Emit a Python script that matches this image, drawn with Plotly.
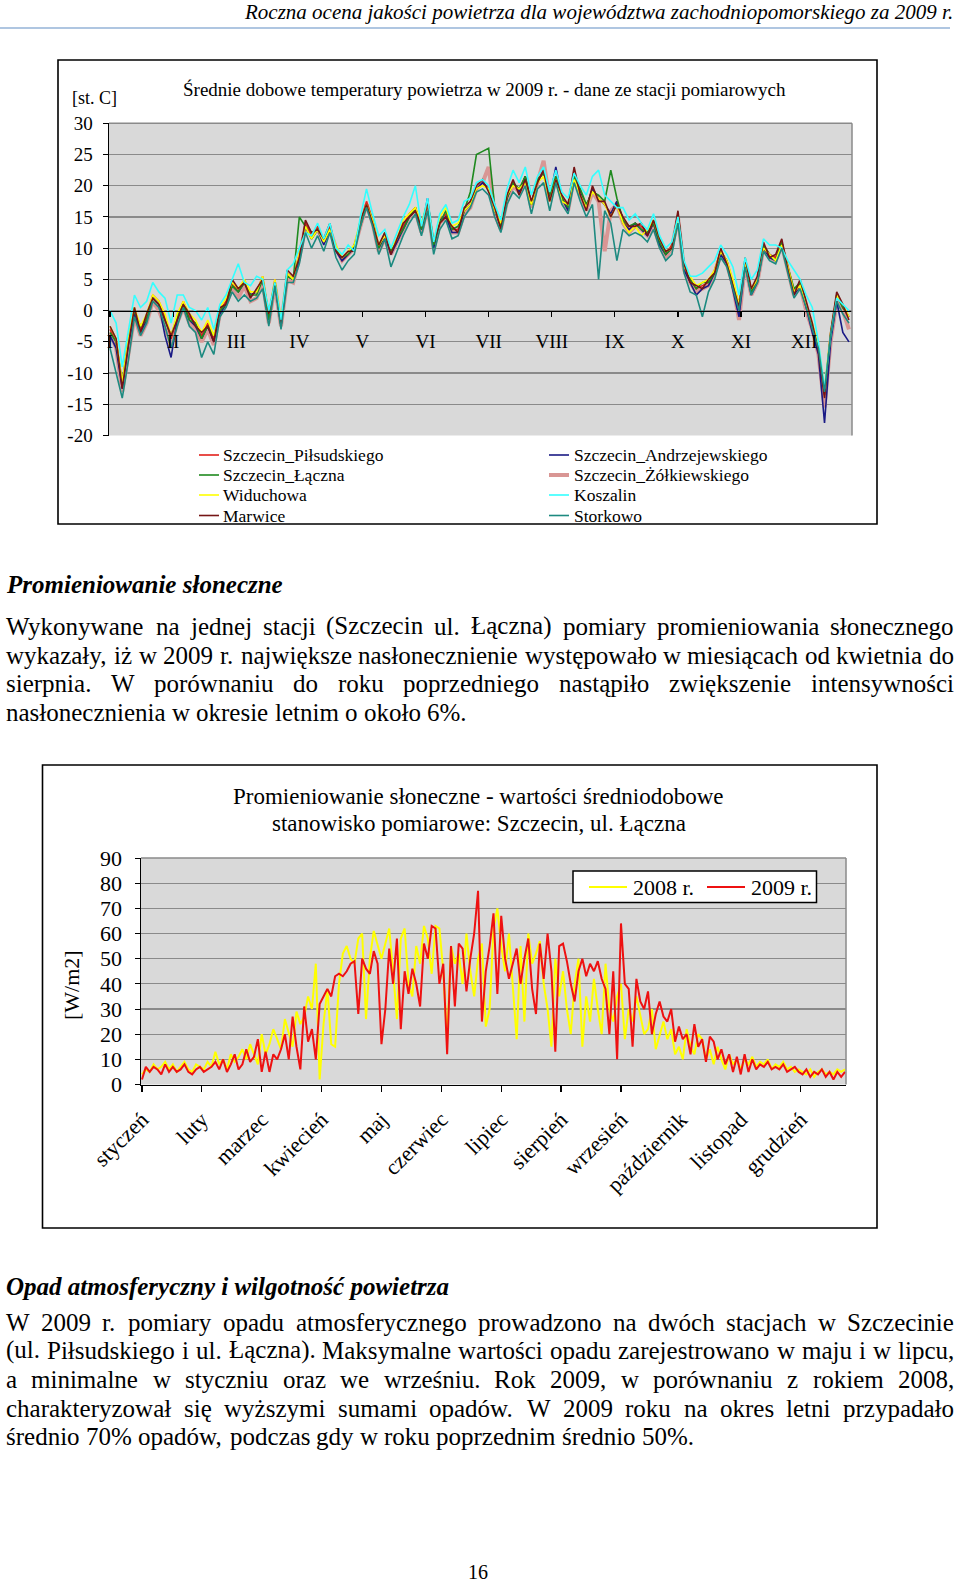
import plotly.graph_objects as go

W, H = 960, 1585
SERIF = "Liberation Serif"

# ---------------- chart 1 data: daily mean air temperature 2009 (every 3rd day) ----------------
temp_days = list(range(0, 364, 3))
month_roman = ["I", "II", "III", "IV", "V", "VI", "VII", "VIII", "IX", "X", "XI", "XII"]
month_ticks = [0, 31, 62, 93, 124, 155, 186, 217, 248, 279, 310, 341]
temp_ticks = [-20, -15, -10, -5, 0, 5, 10, 15, 20, 25, 30]
stations = ["Szczecin_Piłsudskiego", "Szczecin_Andrzejewskiego", "Szczecin_Łączna",
            "Szczecin_Żółkiewskiego", "Widuchowa", "Koszalin", "Marwice", "Storkowo"]

t_pilsudskiego = [-3, -5, -12, -5, 0, -3, -1, 2.5, 1.5, -1,
                  -4.5, -1, 1.5, -1, -2, -4, -2, -4.5, 0, 1.5,
                  4.5, 3, 5, 2.5, 3, 5.5, -1, 5, -2, 6,
                  5, 9, 14, 12, 13.5, 11, 13.5, 10, 8, 9,
                  10, 14, 17.5, 14.5, 10, 12, 9.5, 11, 13.5, 15.5,
                  16.5, 13, 17, 10.5, 14.5, 15.5, 13, 13, 16, 17,
                  19.5, 20.5, 19.5, 16, 13.5, 18, 20.5, 19, 21.5, 17,
                  21, 22, 18, 21.5, 18, 16.5, 22, 19, 16.5, 19.5,
                  18, 17, 15.5, 17.5, 14.5, 13, 14, 13.5, 12.5, 14,
                  11, 9, 10.5, 15.5, 7, 5, 3.5, 4, 4.5, 6.5,
                  9.5, 8, 4.5, 1, 8, 3, 5, 10.5, 9, 8.5,
                  11, 7, 3, 4.5, 1, -2.5, -6, -13.5, -4, 2.5,
                  0.5, -1]
t_andrzejewskiego = [-4, -6, -12.5, -5.5, -0.5, -3.5, -1.5, 2, 1, -4,
                     -7.5, -1.5, 1, -1.5, -2.5, -4.5, -2.5, -5, -0.5, 1,
                     4, 3, 4.5, 2.5, 3, 5, -1.5, 4.5, -2.5, 5.5,
                     5, 8, 13.5, 11.5, 13, 10.5, 13, 9.5, 8, 9,
                     10, 14, 17, 14, 10, 12, 9, 11, 13, 15,
                     16, 13, 18, 10, 14.5, 15, 12.5, 12.5, 16, 17,
                     19.5, 20.5, 19.5, 16, 13.5, 18, 20.5, 19, 21.5, 17,
                     20.5, 22.5, 18, 23, 18, 16, 21.5, 19, 16.5, 19.5,
                     18, 17, 15.5, 17.5, 14, 13, 14, 13, 12, 14,
                     10.5, 9, 10, 15, 6.5, 4.5, 2.5, 3.5, 4, 6,
                     9, 7.5, 3.5, -1, 7.5, 2.5, 4.5, 10, 8.5, 8,
                     10.5, 6.5, 2.5, 4, 0.5, -3.5, -7, -18, -5, 1.5,
                     -3.5, -5]
t_laczna = [-3.5, -5, -11.5, -4.5, 0, -2.5, -1.5, 2, 1, -1.5,
            -4, -1, 1, -1.5, -2, -4.5, -2.5, -4, 0, 1,
            4, 3, 4.5, 2.5, 2.5, 5, -1.5, 4.5, -2, 5.5,
            5, 15, 13.5, 11.5, 13, 11.5, 13, 10, 8.5, 9,
            10.5, 13.5, 17, 14.5, 10, 12.5, 9.5, 11.5, 13, 15,
            16.5, 13, 17.5, 10.5, 14, 16, 13, 13.5, 16, 19,
            25, 25.5, 26, 16.5, 13.5, 18, 20.5, 19.5, 21.5, 17,
            21, 22, 18.5, 21.5, 18, 16.5, 21.5, 19.5, 17, 19,
            18.5, 17.5, 22.5, 18, 14.5, 13.5, 14, 13, 12.5, 14,
            11, 9, 10, 15.5, 7.5, 5, 3.5, 4.5, 4.5, 6,
            9.5, 8, 4, 1, 8, 3, 4.5, 10.5, 9, 8,
            11, 7, 3.5, 4.5, 1, -2.5, -6, -13, -4, 2.5,
            0.5, -1]
t_zolkiewskiego = [-3.5, -6, -13, -6.5, -1, -4, -2, 1.5, 0, -2.5,
                   -5.5, -2, 0.5, -2, -3, -5, -3, -5.5, -0.5, 1,
                   3.5, 2, 4, 1.5, 2, 4.5, -2, 4, -2.5, 5,
                   4.5, 8.5, 13.5, 12, 13, 11, 13, 10, 8, 9,
                   10, 13.5, 17, 14, 9.5, 11.5, 9, 11, 13, 15,
                   16, 12.5, 16.5, 10, 14, 15, 12.5, 12.5, 15.5, 16.5,
                   19.5, 20.5, 23, 15.5, 13, 17.5, 20, 19, 21, 16.5,
                   20.5, 24, 17.5, 21.5, 17.5, 16, 21.5, 18.5, 16, 19,
                   17.5, 9.5, 16, 17, 14, 12.5, 13.5, 13, 12, 13.5,
                   10.5, 8.5, 10, 15, 6.5, 4.5, 3, 3.5, 4, 6,
                   9, 7.5, 4, -1.5, 7.5, 2.5, 4.5, 10, 8.5, 8,
                   10.5, 6.5, 2.5, 4, 0, -3, -7, -15.5, -5, 1.5,
                   0, -3]
t_widuchowa = [-2.5, -4.5, -11.5, -4.5, 0.5, -2.5, -0.5, 2.5, 1.5, -0.5,
               -4, -0.5, 1.5, -0.5, -1.5, -3.5, -1.5, -4, 0.5, 2,
               4.5, 3.5, 5, 3, 3, 5.5, -0.5, 5, -1.5, 6,
               5, 9.5, 13.5, 11.5, 13, 11, 13, 10.5, 8.5, 9.5,
               10.5, 14.5, 17, 14.5, 10.5, 12, 10, 11.5, 14.5, 15.5,
               16.5, 14, 17.5, 11, 15, 16.5, 13.5, 14, 16, 17,
               19.5, 20, 19.5, 16, 14, 18.5, 20, 19.5, 20.5, 17,
               20.5, 21.5, 17.5, 21, 17.5, 17, 21, 18.5, 16.5, 19,
               18, 17, 15, 17, 14, 12.5, 13.5, 12, 13, 14.5,
               11.5, 9.5, 10, 14.5, 7, 5.5, 4, 4.5, 5, 6.5,
               9.5, 8, 5, 1, 7.5, 3.5, 5, 10, 9, 8,
               10.5, 7, 3, 4, 1, -2, -5.5, -12.5, -3.5, 2.5,
               1, -1]
t_koszalin = [0, -2, -9, -3, 2.5, 0.5, 1.5, 4.5, 3, 2,
              -2, 2.5, 2.5, 0.5, 0, -1.5, 0.5, -3, 1, 2.5,
              5, 7.5, 4.5, 4, 5.5, 5, 0, 4.5, -1.5, 6.5,
              7.5, 10, 12.5, 12, 14, 11.5, 14, 10, 9, 10.5,
              9.5, 15, 19.5, 15.5, 12, 13, 10, 12.5, 15, 17,
              20, 13.5, 18, 11, 15.5, 17, 14, 14.5, 17.5, 18,
              20.5, 21, 20, 17, 14.5, 19.5, 22.5, 20.5, 23, 18.5,
              21.5, 23, 19, 22.5, 19, 18, 22, 20, 18.5, 21.5,
              22.5, 18.5, 17.5, 16.5, 16.5, 14.5, 15.5, 14, 13, 15.5,
              12, 10, 11, 15, 8, 5.5, 5.5, 6, 7, 8,
              10.5, 9, 7, 2.5, 8.5, 5, 6.5, 11.5, 10.5, 10.5,
              10, 8, 6.5, 5, 2.5, 0.5, -5, -12.5, -4, 2,
              1, 0]
t_marwice = [-2.5, -4.5, -12.5, -5.5, 0.5, -3.5, -0.5, 2, 1, -1.5,
             -4, -1.5, 1, -0.5, -2.5, -3.5, -2.5, -5, 0.5, 1,
             5, 3.5, 4.5, 2, 3.5, 5, -0.5, 4.5, -2.5, 6.5,
             5.5, 8.5, 14.5, 12.5, 13, 11.5, 14, 9.5, 8.5, 9.5,
             9.5, 14.5, 17, 14, 10.5, 12.5, 9, 11.5, 14, 15,
             16, 13.5, 17.5, 11, 14, 15, 13.5, 12.5, 16.5, 17.5,
             20, 21, 19, 16.5, 13, 18.5, 21, 18.5, 21, 17.5,
             20.5, 22.5, 17.5, 21, 18.5, 17, 23, 18.5, 16, 20,
             17.5, 17.5, 15, 17, 15, 13.5, 13.5, 14, 12, 14.5,
             11.5, 9.5, 10, 16, 7.5, 4.5, 4, 3.5, 5, 6,
             10, 7.5, 4, 0.5, 8.5, 3.5, 5.5, 11, 8.5, 9,
             11.5, 6.5, 2.5, 5, 1.5, -2, -6.5, -14, -3.5, 3,
             1, -1.5]
t_storkowo = [-6, -10, -14, -8, -1, -4, -2, 1.5, 0.5, -2.5,
              -6, -2.5, 0.5, -2.5, -3.5, -7.5, -5, -7, -1, 0.5,
              3, 1.5, 2.5, 1.5, 2, 3.5, -2.5, 4, -3, 4.5,
              4.5, 7.5, 12.5, 10, 12, 9.5, 12.5, 8.5, 6.5, 8,
              9, 13.5, 16.5, 13.5, 9, 11.5, 7, 9.5, 12, 14,
              15.5, 12, 16, 9, 13, 14.5, 11.5, 12, 15, 16.5,
              19, 19.5, 18.5, 15, 12.5, 17, 19, 18, 20, 15.5,
              19.5, 20.5, 16, 20.5, 17, 15.5, 20.5, 17.5, 15, 17,
              5, 16, 14, 8, 13, 12, 12.5, 12, 11, 13,
              10, 8, 9, 14, 6, 3, 2.5, -1, 3, 5,
              8.5, 7, 3.5, 0, 7, 2.5, 4.5, 9.5, 8, 7.5,
              10, 6, 2, 3.5, 0.5, -3, -6, -13, -4, 1.5,
              -0.5, -2]

temp_series = [t_pilsudskiego, t_andrzejewskiego, t_laczna, t_zolkiewskiego,
               t_widuchowa, t_koszalin, t_marwice, t_storkowo]

# ---------------- chart 2 data: daily mean solar radiation (every 2nd day) ----------------
rad_days = list(range(0, 365, 2))
month_pl = ["styczeń", "luty", "marzec", "kwiecień", "maj", "czerwiec", "lipiec",
            "sierpień", "wrzesień", "październik", "listopad", "grudzień"]
rad_2008 = [4, 6, 5, 8, 6, 7, 9, 6, 8, 5, 7, 9, 6, 5, 8, 7,
            6, 9, 7, 13, 8, 10, 6, 12, 9, 11, 14, 10, 16, 12, 8,
            20, 12, 16, 22, 18, 14, 26, 20, 15, 29, 24, 27, 35, 30, 48, 2,
            24, 38, 16, 15, 40, 52, 55, 50, 48, 58, 60, 26, 50, 61, 55,
            50, 56, 62, 45, 26, 58, 62, 40, 35, 55, 48, 63, 58, 44, 63, 62,
            45, 18, 55, 48, 52, 40, 60, 45, 35, 50, 56, 23, 30, 62, 70,
            55, 45, 60, 40, 18, 55, 25, 60, 48, 52, 57, 40, 30, 15, 50, 35,
            45, 30, 20, 40, 50, 15, 35, 25, 42, 30, 20, 48, 30, 25, 35,
            40, 18, 30, 25, 35, 28, 20, 22, 30, 14, 20, 25, 18, 22, 12, 15,
            10, 22, 15, 12, 20, 18, 10, 14, 8, 15, 10, 6, 12, 8, 10,
            6, 10, 8, 11, 7, 9, 8, 10, 6, 8, 7, 9, 6, 7, 5, 6,
            5, 4, 6, 3, 5, 6, 4, 5, 4, 6, 5, 6]
rad_2009 = [2, 7, 5, 7, 6, 4, 8, 5, 7, 5, 6, 8, 5, 4, 6, 7,
            5, 6, 7, 9, 6, 10, 5, 8, 12, 6, 8, 14, 9, 11, 18,
            5, 13, 5, 12, 10, 14, 20, 10, 27, 15, 6, 31, 17, 22, 10, 32,
            35, 38, 35, 43, 44, 43, 45, 48, 49, 28, 50, 46, 44, 53, 48,
            16, 30, 54, 40, 58, 22, 45, 36, 46, 40, 31, 56, 50, 63, 62, 40,
            48, 12, 55, 31, 56, 54, 37, 50, 60, 77, 25, 45, 55, 68, 36,
            67, 50, 42, 48, 54, 40, 50, 58, 38, 28, 56, 42, 60, 45, 13, 55,
            56, 49, 40, 33, 45, 50, 43, 48, 45, 49, 42, 38, 20, 45, 10,
            64, 40, 38, 15, 42, 33, 30, 37, 20, 28, 33, 27, 25, 30, 17, 23,
            18, 20, 12, 24, 15, 18, 9, 19, 17, 10, 14, 8, 12, 5, 11,
            4, 12, 5, 10, 6, 8, 7, 9, 6, 7, 6, 8, 5, 6, 7, 5,
            4, 6, 3, 5, 4, 6, 3, 5, 2, 5, 3, 5]
rad_names = ["2008 r.", "2009 r."]

# ---------------- page text ----------------
header_text = "Roczna ocena jakości powietrza dla województwa zachodniopomorskiego za 2009 r."
chart1_title = "Średnie dobowe temperatury powietrza w 2009 r. - dane ze stacji pomiarowych"
chart1_unit = "[st. C]"
chart2_title = ["Promieniowanie słoneczne - wartości średniodobowe",
                "stanowisko pomiarowe: Szczecin, ul. Łączna"]
chart2_unit = "[W/m2]"
heading1 = "Promieniowanie słoneczne"
para1 = ["Wykonywane na jednej stacji (Szczecin ul. Łączna) pomiary promieniowania słonecznego",
         "wykazały, iż w 2009 r. największe nasłonecznienie występowało w miesiącach od kwietnia do",
         "sierpnia. W porównaniu do roku poprzedniego nastąpiło zwiększenie intensywności",
         "nasłonecznienia w okresie letnim o około 6%."]
heading2 = "Opad atmosferyczny i wilgotność powietrza"
para2 = ["W 2009 r. pomiary opadu atmosferycznego prowadzono na dwóch stacjach w Szczecinie",
         "(ul. Piłsudskiego i ul. Łączna). Maksymalne wartości opadu zarejestrowano w maju i w lipcu,",
         "a minimalne w styczniu oraz we wrześniu. Rok 2009, w porównaniu z rokiem 2008,",
         "charakteryzował się wyższymi sumami opadów. W 2009 roku na okres letni przypadało",
         "średnio 70% opadów, podczas gdy w roku poprzednim średnio 50%."]
page_no = "16"

# ---------------- styles ----------------
temp_colors = ["#e3201b", "#1a1a85", "#1f8a1f", "#d99694", "#ffff00", "#33ffff", "#751515", "#1d8a80"]
temp_widths = [1.6, 1.6, 1.6, 4.0, 1.6, 1.6, 1.6, 1.6]
draw_order = [3, 0, 1, 2, 4, 6, 5, 7]
rad_colors = ["#ffff00", "#ee1111"]

def fx(px):
    return px / W

def fy(py):
    return 1 - py / H

# Times/Liberation Serif advance widths (1/1000 em) for justification
TW = {' ': 250, '%': 833, '(': 333, ')': 333, ',': 250, '-': 333, '.': 250, '/': 278,
      ':': 278, '[': 333, ']': 333, '_': 500,
      'A': 722, 'B': 667, 'C': 667, 'D': 722, 'E': 611, 'F': 556, 'G': 722, 'H': 722,
      'I': 333, 'J': 389, 'K': 722, 'L': 611, 'M': 889, 'N': 722, 'O': 722, 'P': 556,
      'R': 667, 'S': 556, 'T': 611, 'U': 722, 'W': 944, 'Z': 611,
      'a': 444, 'b': 500, 'c': 444, 'd': 500, 'e': 444, 'f': 333, 'g': 500, 'h': 500,
      'i': 278, 'j': 278, 'k': 500, 'l': 278, 'm': 778, 'n': 500, 'o': 500, 'p': 500,
      'q': 500, 'r': 333, 's': 389, 't': 278, 'u': 500, 'v': 500, 'w': 722, 'x': 500,
      'y': 500, 'z': 444,
      'ą': 444, 'ć': 444, 'ę': 444, 'ł': 278, 'ń': 500, 'ó': 500, 'ś': 389, 'ź': 444,
      'ż': 444, 'Ł': 611, 'Ś': 556, 'Ż': 611}

def tw(s, size):
    return sum(TW.get(ch, 500) for ch in s) * size / 1000.0

fig = go.Figure()

# ---------------- chart 1 traces ----------------
for i in draw_order:
    fig.add_trace(go.Scatter(x=temp_days, y=temp_series[i], name=stations[i], mode="lines",
                             line=dict(color=temp_colors[i], width=temp_widths[i]),
                             xaxis="x", yaxis="y", showlegend=False))

# ---------------- chart 2 traces ----------------
for vals, nm, col in zip([rad_2008, rad_2009], rad_names, rad_colors):
    fig.add_trace(go.Scatter(x=rad_days, y=vals, name=nm, mode="lines",
                             line=dict(color=col, width=2), xaxis="x2", yaxis="y2",
                             showlegend=False))

# geometry
c1_x0, c1_x1, c1_top, c1_bot = 109, 852, 123.3, 435.5
c1_ymin, c1_ymax = -20, 30
c2_x0, c2_x1, c2_top, c2_bot = 141, 846, 858, 1084.5
c1_ydom = [fy(c1_bot), fy(c1_top)]
zero_pos = c1_ydom[0] + (0 - c1_ymin) / (c1_ymax - c1_ymin) * (c1_ydom[1] - c1_ydom[0])

tick_font1 = dict(family=SERIF, size=19, color="black")
tick_font2 = dict(family=SERIF, size=22, color="black")

layout = dict(
    template="none",
    width=W, height=H, autosize=False,
    margin=dict(l=0, r=0, t=0, b=0, pad=0, autoexpand=False),
    paper_bgcolor="white", plot_bgcolor="#d9d9d9",
    font=dict(family=SERIF, color="black"),
    hovermode=False, showlegend=False,
    xaxis=dict(domain=[fx(c1_x0), fx(c1_x1)], range=[-0.5, 364.5], anchor="free",
               position=zero_pos, showline=True, linecolor="black", linewidth=1.5,
               ticks="outside", ticklen=5, tickwidth=1.2, tickcolor="black",
               tickmode="array", tickvals=month_ticks, ticktext=month_roman,
               tickfont=tick_font1, ticklabelstandoff=8, showgrid=False, zeroline=False,
               automargin=False),
    yaxis=dict(domain=c1_ydom, range=[c1_ymin, c1_ymax], anchor="x",
               tickmode="array", tickvals=temp_ticks, ticktext=[str(v) for v in temp_ticks],
               showgrid=True, gridcolor="#8a8a8a", gridwidth=1.3, zeroline=False,
               showline=True, linecolor="black", linewidth=1.5, ticks="outside",
               ticklen=5, tickcolor="black", tickfont=tick_font1, ticklabelstandoff=6,
               automargin=False),
    xaxis2=dict(domain=[fx(c2_x0), fx(c2_x1)], range=[-0.5, 364.5], anchor="y2",
                showline=True, linecolor="black", linewidth=1.5, ticks="outside",
                ticklen=6, tickwidth=1.2, tickcolor="black", tickmode="array",
                tickvals=month_ticks, ticktext=month_pl, tickangle=-45,
                tickfont=tick_font2, ticklabelstandoff=6, showgrid=False, zeroline=False,
                automargin=False),
    yaxis2=dict(domain=[fy(c2_bot), fy(c2_top)], range=[0, 90], anchor="x2", dtick=10,
                showgrid=True, gridcolor="#8a8a8a", gridwidth=1.3, zeroline=False,
                showline=True, linecolor="black", linewidth=1.5, ticks="outside",
                ticklen=5, tickcolor="black", tickfont=tick_font2, ticklabelstandoff=8,
                automargin=False),
)
fig.update_layout(**layout)

shapes = []
ann = []

# header + rule
ann.append(dict(x=fx(954), y=fy(12), xref="paper", yref="paper", text="<i>" + header_text + "</i>",
                showarrow=False, xanchor="right", yanchor="middle", borderpad=0,
                font=dict(family=SERIF, size=21, color="black")))
shapes.append(dict(type="line", xref="paper", yref="paper", x0=0, x1=fx(950), y0=fy(28), y1=fy(28),
                   line=dict(color="#95b3d7", width=1.5)))

# chart boxes
shapes.append(dict(type="rect", xref="paper", yref="paper", x0=fx(58), x1=fx(877), y0=fy(524), y1=fy(60),
                   line=dict(color="black", width=1.6), layer="below"))
shapes.append(dict(type="rect", xref="paper", yref="paper", x0=fx(42.5), x1=fx(877), y0=fy(1228), y1=fy(765),
                   line=dict(color="black", width=1.6), layer="below"))
# plot-area gray borders (top/right)
for xr, yr in (("x", "y"), ("x2", "y2")):
    shapes.append(dict(type="line", xref=xr + " domain", yref=yr + " domain", x0=0, x1=1, y0=1, y1=1,
                       line=dict(color="#8a8a8a", width=1.5)))
    shapes.append(dict(type="line", xref=xr + " domain", yref=yr + " domain", x0=1, x1=1, y0=0, y1=1,
                       line=dict(color="#8a8a8a", width=1.5)))

# chart 1 titles
ann.append(dict(x=fx(484), y=fy(89), xref="paper", yref="paper", text=chart1_title, showarrow=False,
                xanchor="center", yanchor="middle", font=dict(family=SERIF, size=19, color="black")))
ann.append(dict(x=fx(94), y=fy(98), xref="paper", yref="paper", text=chart1_unit, showarrow=False,
                xanchor="center", yanchor="middle", font=dict(family=SERIF, size=18, color="black")))

# chart 1 legend (two columns)
leg_cols = [(199, 222), (549, 573)]
leg_rows = [455, 475, 495, 515.5]
for i, nm in enumerate(stations):
    lx, tx = leg_cols[i % 2]
    ry = leg_rows[i // 2]
    shapes.append(dict(type="line", xref="paper", yref="paper", x0=fx(lx), x1=fx(lx + 20), y0=fy(ry), y1=fy(ry),
                       line=dict(color=temp_colors[i], width=temp_widths[i])))
    ann.append(dict(x=fx(tx), y=fy(ry), xref="paper", yref="paper", text=nm, showarrow=False,
                    xanchor="left", yanchor="middle", borderpad=0,
                    font=dict(family=SERIF, size=17.5, color="black")))

# chart 2 titles
for t, yy in zip(chart2_title, (797, 823.5)):
    ann.append(dict(x=fx(478.5), y=fy(yy), xref="paper", yref="paper", text=t, showarrow=False,
                    xanchor="center", yanchor="middle", font=dict(family=SERIF, size=23, color="black")))
ann.append(dict(x=fx(71), y=fy(985), xref="paper", yref="paper", text=chart2_unit, showarrow=False,
                textangle=-90, xanchor="center", yanchor="middle",
                font=dict(family=SERIF, size=22, color="black")))

# chart 2 legend (boxed, one row)
shapes.append(dict(type="rect", xref="paper", yref="paper", x0=fx(573), x1=fx(816.5), y0=fy(902.5), y1=fy(871),
                   line=dict(color="black", width=1.5), fillcolor="white", layer="above"))
leg2_y = 887
for nm, col, (lx, tx) in zip(rad_names, rad_colors, [(589, 631.5), (707, 749.5)]):
    shapes.append(dict(type="line", xref="paper", yref="paper", x0=fx(lx), x1=fx(lx + 38), y0=fy(leg2_y), y1=fy(leg2_y),
                       line=dict(color=col, width=2)))
    ann.append(dict(x=fx(tx), y=fy(leg2_y), xref="paper", yref="paper", text=nm, showarrow=False,
                    xanchor="left", yanchor="middle", borderpad=0,
                    font=dict(family=SERIF, size=22, color="black")))

# body text
BODY = 25
LEFT, RIGHT = 5, 953

def heading(text, y):
    ann.append(dict(x=fx(LEFT), y=fy(y), xref="paper", yref="paper", text="<b><i>" + text + "</i></b>",
                    showarrow=False, xanchor="left", yanchor="middle", borderpad=0,
                    font=dict(family=SERIF, size=BODY, color="black")))

def paragraph(lines, ys):
    for k, (line, y) in enumerate(zip(lines, ys)):
        words = line.split(" ")
        widths = [tw(w, BODY) for w in words]
        if k < len(lines) - 1 and len(words) > 1:
            gap = (RIGHT - LEFT - sum(widths)) / (len(words) - 1)
        else:
            gap = tw(" ", BODY)
        x = LEFT
        for w, wd in zip(words, widths):
            ann.append(dict(x=fx(x), y=fy(y), xref="paper", yref="paper", text=w, showarrow=False,
                            xanchor="left", yanchor="middle", borderpad=0,
                            font=dict(family=SERIF, size=BODY, color="black")))
            x += wd + gap

heading(heading1, 585)
paragraph(para1, [626.5, 655, 684, 712.5])
heading(heading2, 1286)
paragraph(para2, [1322, 1350, 1379, 1408, 1436])

ann.append(dict(x=fx(478), y=fy(1572), xref="paper", yref="paper", text=page_no, showarrow=False,
                xanchor="center", yanchor="middle", font=dict(family=SERIF, size=20, color="black")))

fig.update_layout(shapes=shapes, annotations=ann)
fig.write_html("out.html", config={"displayModeBar": False, "staticPlot": True},
               post_script="document.body.style.margin='0px';")
